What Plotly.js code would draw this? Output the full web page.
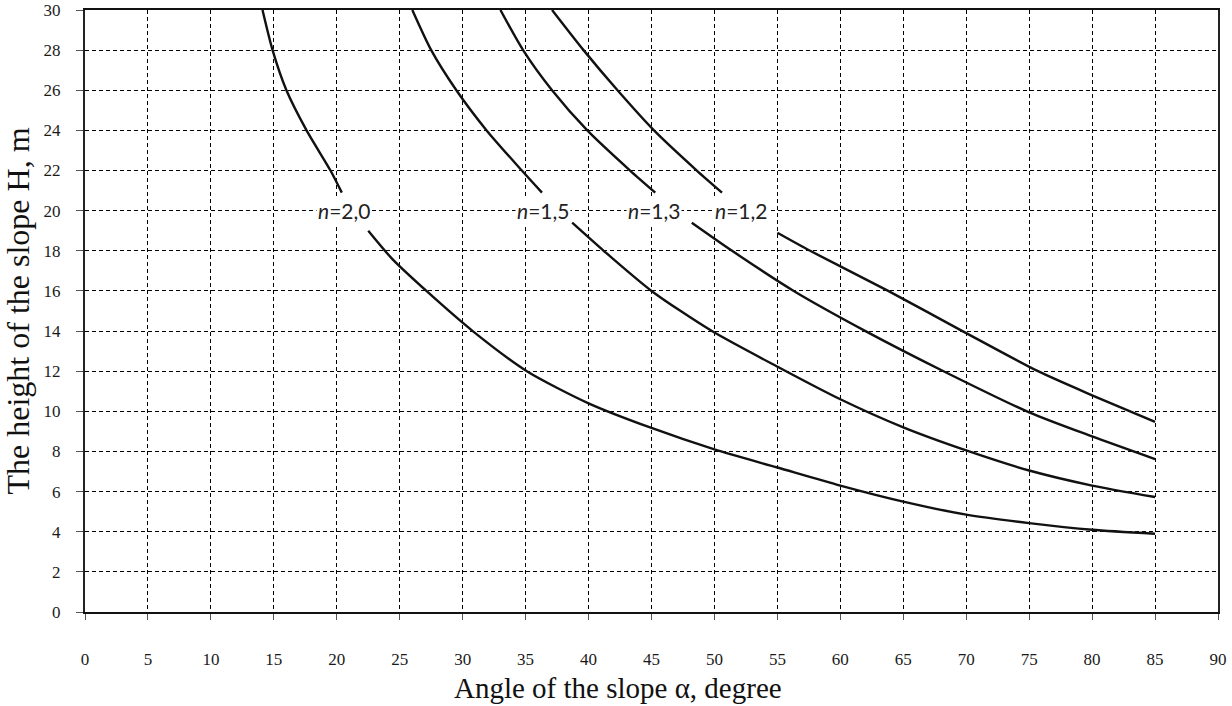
<!DOCTYPE html>
<html>
<head>
<meta charset="utf-8">
<script src="https://cdn.plot.ly/plotly-3.0.1.min.js"></script>
<style>
  html, body { margin: 0; padding: 0; background: #fff; }
  #chart { width: 1232px; height: 706px; }
</style>
</head>
<body>
<div id="chart"></div>
<script>
// Series (null = gap where the curve label sits)
const seriesNames = ["n=2,0", "n=1,5", "n=1,3", "n=1,2"];
const labelTexts = ["<i>n</i>=2,0", "<i>n</i>=1,5", "<i>n</i>=1,3", "<i>n</i>=1,2"];
const labelX = [20.6, 36.4, 45.2, 52.1];
const labelY = [20, 20, 20, 20];

const alpha_n20 = [14.1, 14.9, 16.0, 17.6, 19.5, 20.4, null, 22.5, 24.4, 27.3, 30.8, 35.1, 40, 45, 50, 55, 60, 65, 70, 75, 80, 85];
const H_n20     = [30, 28, 26, 24, 22, 20.9, null, 19.0, 17.6, 15.9, 14, 12, 10.4, 9.17, 8.1, 7.2, 6.3, 5.5, 4.85, 4.43, 4.1, 3.9];

const alpha_n15 = [26.0, 27.5, 29.5, 31.9, 34.7, 36.3, null, 38.7, 41.2, 45.0, 49.8, 55.2, 60, 65, 70, 75, 80, 85];
const H_n15     = [30, 28, 26, 24, 22, 20.9, null, 19.4, 18, 16, 14, 12.16, 10.6, 9.2, 8.05, 7.05, 6.3, 5.73];

const alpha_n13 = [33.0, 34.8, 37.1, 39.9, 43.3, 45.3, null, 48.2, 51.4, 56.3, 62.0, 68.2, 75, 80, 85];
const H_n13     = [30, 28, 26, 24, 22, 20.9, null, 19.4, 18, 16, 14, 12, 9.95, 8.75, 7.62];

const alpha_n12 = [37.1, 39.6, 42.3, 45.2, 48.6, 50.6, null, 55.0, 57.6, 63.8, 69.7, 75.7, 80, 85];
const H_n12     = [30, 28, 26, 24, 22, 20.9, null, 18.9, 18, 16, 14, 12, 10.8, 9.47];

const xTicks = [0, 5, 10, 15, 20, 25, 30, 35, 40, 45, 50, 55, 60, 65, 70, 75, 80, 85, 90];
const yTicks = [0, 2, 4, 6, 8, 10, 12, 14, 16, 18, 20, 22, 24, 26, 28, 30];
const xTitle = "Angle of the slope α, degree";
const yTitle = "The height of the slope H, m";

const xs = [alpha_n20, alpha_n15, alpha_n13, alpha_n12];
const ys = [H_n20, H_n15, H_n13, H_n12];

const traces = xs.map((x, i) => ({
  type: "scatter",
  mode: "lines",
  name: seriesNames[i],
  x: x,
  y: ys[i],
  connectgaps: false,
  line: { color: "#111", width: 2.4, shape: "spline", smoothing: 0.7 },
  hoverinfo: "x+y+name"
}));

const serif = "Liberation Serif";

const annotations = labelTexts.map((t, i) => ({
  x: labelX[i], y: labelY[i], xref: "x", yref: "y",
  text: t, showarrow: false,
  font: { family: "Lato", size: 21, color: "#222" },
  bgcolor: "#ffffff", borderpad: 1
}));
annotations.push({
  x: 0.47, y: -0.127, xref: "paper", yref: "paper",
  xanchor: "center", yanchor: "middle",
  text: xTitle, showarrow: false,
  font: { family: serif, size: 29, color: "#111" }
});

const axisFont = { family: serif, size: 17, color: "#1a1a1a" };

const layout = {
  width: 1232, height: 706,
  margin: { l: 85, r: 14, t: 10, b: 94 },
  paper_bgcolor: "#fff", plot_bgcolor: "#fff",
  showlegend: false,
  xaxis: {
    range: [0, 90],
    tickvals: xTicks, ticktext: xTicks.map(String),
    showgrid: true, gridcolor: "#000", gridwidth: 1, griddash: "4px,3px",
    showline: true, linecolor: "#111", linewidth: 2, mirror: true,
    zeroline: false,
    ticks: "outside", ticklen: 6, tickcolor: "#555", tickwidth: 1,
    ticklabelstandoff: 25,
    tickfont: axisFont
  },
  yaxis: {
    range: [0, 30],
    tickvals: yTicks, ticktext: yTicks.map(String),
    showgrid: true, gridcolor: "#000", gridwidth: 1, griddash: "4px,3px",
    showline: true, linecolor: "#222", linewidth: 2, mirror: true,
    zeroline: false,
    ticks: "outside", ticklen: 7, tickcolor: "#555", tickwidth: 1,
    ticklabelstandoff: 12,
    tickfont: axisFont,
    title: { text: yTitle, font: { family: serif, size: 32, color: "#111" }, standoff: 6 }
  },
  annotations: annotations
};

Plotly.newPlot("chart", traces, layout, { displayModeBar: false, responsive: false });
</script>
</body>
</html>
